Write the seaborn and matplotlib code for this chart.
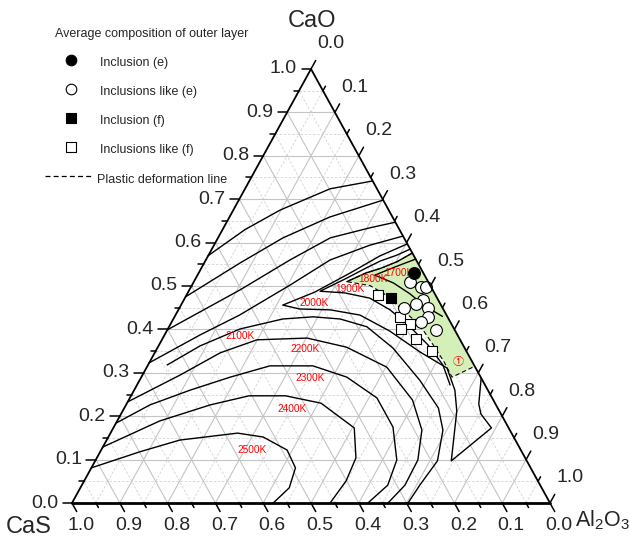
import matplotlib
matplotlib.use("Agg")
import matplotlib.pyplot as plt
import numpy as np
import pandas as pd
import seaborn as sns

# ---------------- data: mole fractions (CaS = 1 - CaO - Al2O3) ----------------
# unlabeled isotherms of the CaO primary field (left side -> CaO-Al2O3 side)
iso_a_cao = [0.57, 0.63, 0.675, 0.724, 0.742]
iso_a_al = [0.00, 0.047, 0.098, 0.178, 0.258]
iso_b_cao = [0.475, 0.553, 0.611, 0.659, 0.698]
iso_b_al = [0.00, 0.075, 0.136, 0.210, 0.302]
iso_c_cao = [0.399, 0.491, 0.560, 0.611, 0.634, 0.647]
iso_c_al = [0.00, 0.106, 0.176, 0.235, 0.306, 0.353]
iso_d_cao = [0.323, 0.387, 0.433, 0.502, 0.560, 0.594, 0.615]
iso_d_al = [0.00, 0.074, 0.134, 0.205, 0.260, 0.326, 0.385]

iso_2500_cao = [0.081, 0.118, 0.145, 0.161, 0.152, 0.122, 0.081, 0.035, 0.0]
iso_2500_al = [0.0, 0.083, 0.153, 0.266, 0.324, 0.389, 0.427, 0.437, 0.421]
iso_2400_cao = [0.129, 0.189, 0.226, 0.247, 0.247, 0.230, 0.173, 0.104, 0.051, 0.0]
iso_2400_al = [0.0, 0.089, 0.176, 0.247, 0.323, 0.406, 0.504, 0.542, 0.548, 0.540]
iso_2300_cao = [0.184, 0.226, 0.260, 0.290, 0.316, 0.316, 0.290, 0.242, 0.175, 0.099, 0.041, 0.0]
iso_2300_al = [0.0, 0.050, 0.117, 0.186, 0.256, 0.346, 0.430, 0.517, 0.584, 0.630, 0.640, 0.619]
iso_2200_cao = [0.233, 0.295, 0.346, 0.376, 0.380, 0.359, 0.313, 0.237, 0.168, 0.099, 0.041, 0.0]
iso_2200_al = [0.0, 0.079, 0.137, 0.199, 0.302, 0.395, 0.502, 0.594, 0.648, 0.674, 0.676, 0.661]
iso_2100_cao = [0.318, 0.362, 0.401, 0.424, 0.429, 0.424, 0.406, 0.357, 0.283, 0.219, 0.168, 0.097, 0.041, 0.0]
iso_2100_al = [0.040, 0.087, 0.151, 0.229, 0.290, 0.349, 0.414, 0.493, 0.586, 0.657, 0.692, 0.716, 0.707, 0.703]
iso_2000_cao = [0.597, 0.569, 0.530, 0.486, 0.456, 0.447, 0.445, 0.433, 0.396, 0.348, 0.311,
                0.260, 0.212, 0.097, 0.173, 0.205, 0.228, 0.288]
iso_2000_al = [0.403, 0.359, 0.317, 0.265, 0.213, 0.253, 0.318, 0.386, 0.467, 0.554, 0.629,
               0.671, 0.699, 0.745, 0.791, 0.753, 0.737, 0.712]
iso_1900_cao = [0.585, 0.571, 0.558, 0.541, 0.516, 0.488, 0.484, 0.472, 0.445, 0.406, 0.364, 0.318, 0.272]
iso_1900_al = [0.415, 0.394, 0.367, 0.344, 0.313, 0.275, 0.329, 0.387, 0.443, 0.504, 0.563, 0.617, 0.655]
iso_1800_cao = [0.576, 0.556, 0.541, 0.530, 0.510]
iso_1800_al = [0.424, 0.402, 0.376, 0.350, 0.320]
iso_1700_cao = [0.562, 0.544, 0.525, 0.507, 0.482, 0.454, 0.43]
iso_1700_al = [0.438, 0.404, 0.371, 0.419, 0.466, 0.511, 0.56]

# plastic deformation zone (1) and its bounding line
zone_cao = [0.576, 0.315, 0.290, 0.325, 0.362, 0.396, 0.426, 0.454, 0.482, 0.501, 0.510, 0.530, 0.541, 0.556]
zone_al = [0.424, 0.685, 0.650, 0.616, 0.576, 0.538, 0.498, 0.455, 0.412, 0.373, 0.320, 0.350, 0.376, 0.402]
plastic_cao = [0.576, 0.556, 0.541, 0.530, 0.510, 0.501, 0.482, 0.454, 0.426, 0.396, 0.362, 0.325, 0.290, 0.315]
plastic_al = [0.424, 0.402, 0.376, 0.350, 0.320, 0.373, 0.412, 0.455, 0.498, 0.538, 0.576, 0.616, 0.650, 0.685]

# average composition of the outer layer
incl_e_cao = [0.529]
incl_e_al = [0.451]
like_e_cao = [0.510, 0.498, 0.498, 0.468, 0.459, 0.449, 0.449, 0.429, 0.418, 0.399]
like_e_al = [0.452, 0.481, 0.491, 0.501, 0.490, 0.521, 0.470, 0.531, 0.521, 0.561]
incl_f_cao = [0.472]
incl_f_al = [0.431]
like_f_cao = [0.479, 0.428, 0.412, 0.400, 0.379, 0.351]
like_f_al = [0.401, 0.472, 0.501, 0.489, 0.530, 0.577]

iso_labels = ["1700K", "1800K", "1900K", "2000K", "2100K", "2200K", "2300K", "2400K", "2500K"]
iso_label_cao = [0.531, 0.515, 0.492, 0.460, 0.385, 0.355, 0.289, 0.217, 0.122]
iso_label_al = [0.418, 0.372, 0.336, 0.276, 0.159, 0.310, 0.353, 0.352, 0.316]
zone_label = "\u2460"
zone_label_cao = 0.325
zone_label_al = 0.646

tick_values = [0.0, 0.1, 0.2, 0.3, 0.4, 0.5, 0.6, 0.7, 0.8, 0.9, 1.0]
tick_labels = ["0.0", "0.1", "0.2", "0.3", "0.4", "0.5", "0.6", "0.7", "0.8", "0.9", "1.0"]

legend_title = "Average composition of outer layer"
legend_texts = ["Inclusion (e)", "Inclusions like (e)", "Inclusion (f)", "Inclusions like (f)",
                "Plastic deformation line"]


# ---------------- helpers ----------------
def tern(cao, al):
    cao = np.asarray(cao, dtype=float)
    al = np.asarray(al, dtype=float)
    return al + cao / 2.0, cao


sns.set_style("white")
plt.rcParams["font.family"] = ["Liberation Sans", "DejaVu Sans", "Noto Sans CJK SC"]
plt.rcParams["mathtext.fontset"] = "custom"
plt.rcParams["mathtext.rm"] = "Liberation Sans"

FW, FH = 630, 539
fig = plt.figure(figsize=(6.3, 5.39), dpi=100)
ax = fig.add_axes([72 / FW, 36 / FH, 478 / FW, 434 / FH])
ax.set_xlim(0, 1)
ax.set_ylim(0, 1)
ax.axis("off")
PX = 1 / 478.0
PY = 1 / 434.0

# grid
for k in range(1, 20):
    v = k / 20.0
    major = (k % 2 == 0)
    kw = dict(color="#c4c4c4", lw=0.8, ls="-", zorder=1) if major else \
        dict(color="#d2d2d2", lw=0.6, ls=(0, (3, 2)), zorder=1)
    x, y = tern([v, v], [0, 1 - v]); ax.plot(x, y, **kw)          # CaO = v
    x, y = tern([0, 1 - v], [v, v]); ax.plot(x, y, **kw)          # Al2O3 = v
    x, y = tern([0, 1 - v], [1 - v, 0]); ax.plot(x, y, **kw)      # CaS = v

# plastic zone fill
zx, zy = tern(zone_cao, zone_al)
ax.fill(zx, zy, color="#d5efb8", lw=0, zorder=2)

# isotherms
curves = [(iso_a_cao, iso_a_al), (iso_b_cao, iso_b_al), (iso_c_cao, iso_c_al), (iso_d_cao, iso_d_al),
          (iso_2500_cao, iso_2500_al), (iso_2400_cao, iso_2400_al), (iso_2300_cao, iso_2300_al),
          (iso_2200_cao, iso_2200_al), (iso_2100_cao, iso_2100_al), (iso_2000_cao, iso_2000_al),
          (iso_1900_cao, iso_1900_al), (iso_1800_cao, iso_1800_al), (iso_1700_cao, iso_1700_al)]
for cao, al in curves:
    x, y = tern(cao, al)
    df = pd.DataFrame({"x": x, "y": y})
    sns.lineplot(data=df, x="x", y="y", sort=False, estimator=None, color="black", lw=1.0,
                 ax=ax, zorder=3, legend=False)

# plastic deformation line
px_, py_ = tern(plastic_cao, plastic_al)
ax.plot(px_, py_, color="black", lw=0.8, ls=(0, (4, 2.5)), zorder=3)

# isotherm labels
for t, c, a in zip(iso_labels, iso_label_cao, iso_label_al):
    x, y = tern(c, a)
    ax.text(x, y, t, color="red", fontsize=7.3, ha="center", va="center", zorder=4)
x, y = tern(zone_label_cao, zone_label_al)
ax.text(x, y, zone_label, color="red", fontsize=8, ha="center", va="center", zorder=4,
        family=["Noto Sans CJK SC", "DejaVu Sans"])


# points
def pts(cao, al, marker, face, size):
    x, y = tern(cao, al)
    sns.scatterplot(x=x, y=y, marker=marker, s=size, color=face, edgecolor="black",
                    linewidth=0.8, ax=ax, zorder=5, legend=False)


pts(like_f_cao, like_f_al, "s", "white", 48)
pts(incl_f_cao, incl_f_al, "s", "black", 48)
pts(like_e_cao, like_e_al, "o", "white", 72)
pts(incl_e_cao, incl_e_al, "o", "black", 72)

# triangle frame
fx, fy = tern([0, 1, 0, 0], [0, 0, 1, 0])
ax.plot(fx[:2], fy[:2], color="black", lw=1.3, zorder=6, clip_on=False, solid_capstyle="round")
ax.plot(fx[2:], fy[2:], color="black", lw=2.0, zorder=6, clip_on=False, solid_capstyle="round")
ax.plot(fx[1:3], fy[1:3], color="black", lw=1.3, zorder=6, clip_on=False, solid_capstyle="round")

# ticks
for k in range(0, 21):
    v = k / 20.0
    L = 9.5 if k % 2 == 0 else 5.0
    dy = L * 0.9 * PY
    x, y = tern(v, 0)                      # left axis (CaO)
    ax.plot([x, x - L * PX], [y, y], color="black", lw=1.1, zorder=6, clip_on=False)
    x, y = tern(0, 1 - v)                  # bottom axis (CaS)
    ax.plot([x, x + 0.5 * dy], [y, y - dy], color="black", lw=1.1, zorder=6, clip_on=False)
    x, y = tern(1 - v, v)                  # right axis (Al2O3)
    ax.plot([x, x + 0.5 * dy], [y, y + dy], color="black", lw=1.1, zorder=6, clip_on=False)

tfs = 14
for v, lab in zip(tick_values, tick_labels):
    x, y = tern(v, 0)
    ax.annotate(lab, (x, y), xytext=(-14, 0), textcoords="offset pixels", ha="right", va="center",
                fontsize=tfs, annotation_clip=False)
    x, y = tern(0, 1 - v)
    ax.annotate(lab, (x, y), xytext=(9, -23), textcoords="offset pixels", ha="center", va="center",
                fontsize=tfs, annotation_clip=False)
    x, y = tern(1 - v, v)
    ax.annotate(lab, (x, y), xytext=(20, 25), textcoords="offset pixels", ha="center", va="center",
                fontsize=tfs, annotation_clip=False)

# axis titles
x, y = tern(1, 0)
ax.annotate("CaO", (x, y), xytext=(1, 48), textcoords="offset pixels", ha="center", va="center",
            fontsize=17, annotation_clip=False)
x, y = tern(0, 0)
ax.annotate("CaS", (x, y), xytext=(-43, -24), textcoords="offset pixels", ha="center", va="center",
            fontsize=17, annotation_clip=False)
x, y = tern(0, 1)
ax.annotate(r"$\mathregular{Al_2O_3}$", (x, y), xytext=(25, -17), textcoords="offset pixels",
            ha="left", va="center", fontsize=15.5, annotation_clip=False)

# legend (figure pixel space)
lg = fig.add_axes([0, 0, 1, 1], zorder=10)
lg.patch.set_alpha(0)
lg.text(55, 34, legend_title, fontsize=9, ha="left", va="center")
mk = [("o", "black", 58), ("o", "white", 58), ("s", "black", 44), ("s", "white", 44)]
ys = [60, 89, 118, 147]
for (m, f, s), yy, t in zip(mk, ys, legend_texts[:4]):
    sns.scatterplot(x=[71], y=[yy], marker=m, s=s, color=f, edgecolor="black", linewidth=0.8,
                    ax=lg, legend=False)
    lg.text(100, yy + 3, t, fontsize=9, ha="left", va="center")
lg.plot([45, 93], [176, 176], color="black", lw=0.9, ls=(0, (4, 2.5)))
lg.text(97, 180, legend_texts[4], fontsize=9, ha="left", va="center")
lg.set_xlim(0, FW)
lg.set_ylim(FH, 0)
lg.axis("off")

fig.savefig("out.png", dpi=100)
